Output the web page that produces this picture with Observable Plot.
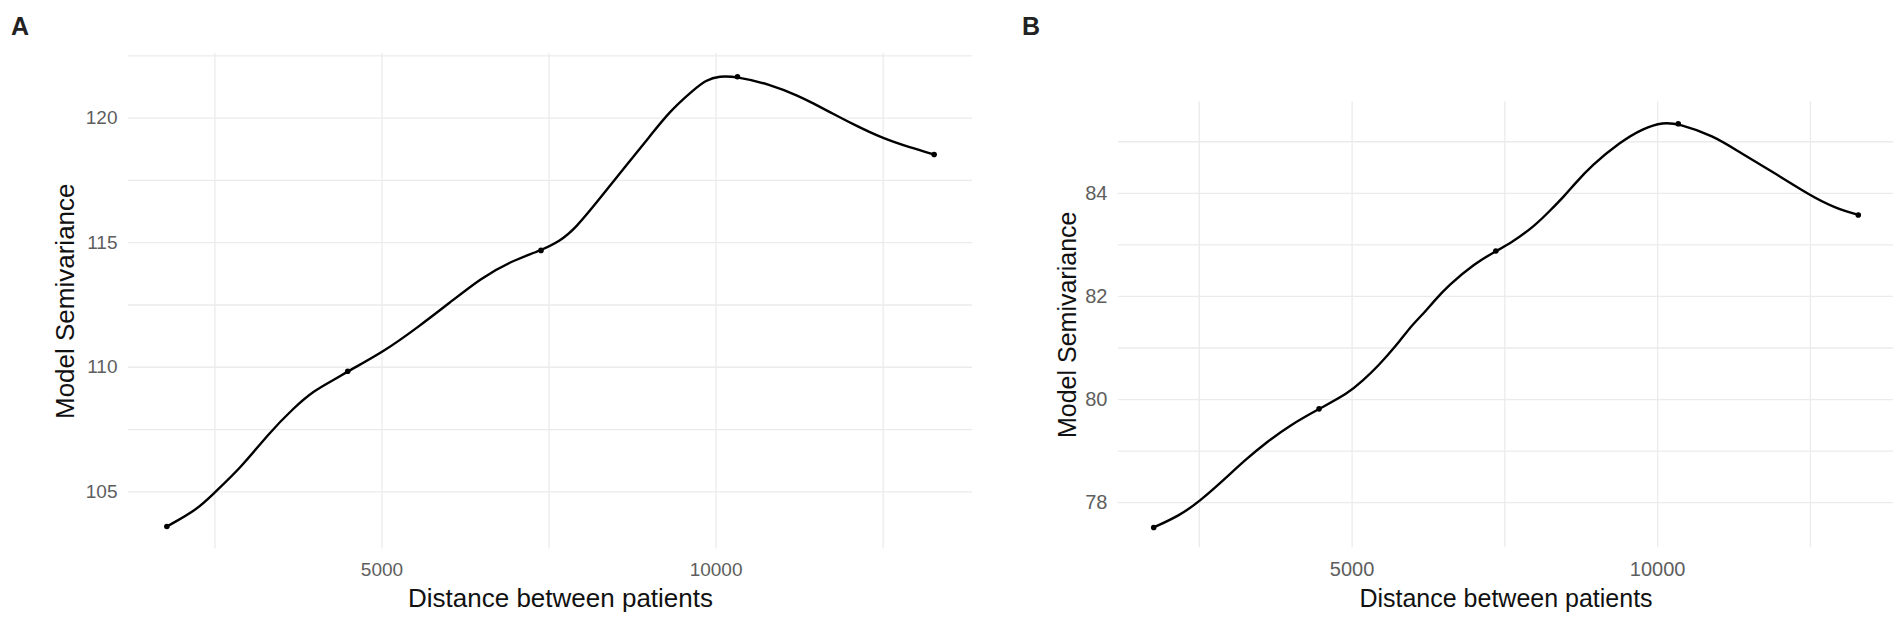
<!DOCTYPE html>
<html>
<head>
<meta charset="utf-8">
<script src="https://cdn.jsdelivr.net/npm/d3@7"></script>
<script src="https://cdn.jsdelivr.net/npm/@observablehq/plot@0.6"></script>
<style>
  html, body { margin: 0; padding: 0; background: #fff; }
  #wrap { position: relative; width: 1901px; height: 640px; overflow: hidden; background: #fff; font-family: "Liberation Sans", Arial, sans-serif; }
  .panel { position: absolute; top: 0; z-index: 1; }
  .tag { position: absolute; z-index: 5; font-size: 25px; font-weight: bold; line-height: 25px; color: #222; }
</style>
</head>
<body>
<div id="wrap">
  <div id="pa" class="panel" style="left:0px;"></div>
  <div id="pb" class="panel" style="left:1000px;"></div>
  <div class="tag" style="left:11px; top:14px;">A</div>
  <div class="tag" style="left:1022px; top:14px;">B</div>
</div>
<script>
// ---------------- Data ----------------
const xTitle = "Distance between patients";
const yTitle = "Model Semivariance";

// Panel A: fitted curve
const curveA_x = [1781, 2241, 2485, 2883, 3308, 3668, 3979, 4292, 4488, 5030, 5539, 6018, 6482, 6916, 7380, 7659, 7889, 8286, 8677, 8990, 9296, 9656, 9850, 10045, 10320, 10790, 11257, 11452, 11657, 12051, 12500, 12904, 13263];
const curveA_y = [103.61, 104.30, 104.95, 105.95, 107.35, 108.34, 109.06, 109.51, 109.84, 110.63, 111.61, 112.60, 113.58, 114.24, 114.69, 115.06, 115.55, 116.86, 118.18, 119.20, 120.25, 121.12, 121.53, 121.69, 121.66, 121.37, 120.87, 120.59, 120.31, 119.75, 119.18, 118.82, 118.54];
// Panel A: points
const pointsA_x = [1781, 4488, 7380, 10320, 13263];
const pointsA_y = [103.61, 109.84, 114.69, 121.66, 118.54];

// Panel B: fitted curve
const curveB_x = [1754, 2179, 2507, 2888, 3271, 3599, 3980, 4460, 4935, 5180, 5426, 5727, 5945, 6162, 6326, 6572, 7009, 7352, 7582, 7991, 8236, 8482, 8618, 8919, 9382, 9764, 10091, 10337, 10910, 11347, 11892, 12493, 12874, 13283];
const curveB_y = [77.52, 77.75, 78.03, 78.43, 78.85, 79.17, 79.50, 79.82, 80.12, 80.37, 80.65, 81.05, 81.40, 81.66, 81.89, 82.21, 82.64, 82.88, 83.02, 83.37, 83.66, 83.96, 84.15, 84.54, 84.99, 85.26, 85.38, 85.35, 85.12, 84.79, 84.41, 83.96, 83.73, 83.58];
// Panel B: points
const pointsB_x = [1754, 4460, 7352, 10337, 13283];
const pointsB_y = [77.52, 79.82, 82.88, 85.35, 83.58];

// Ticks and grid
const gridX = [2500, 5000, 7500, 10000, 12500];
const ticksX = [5000, 10000];
const gridA_y = [105, 107.5, 110, 112.5, 115, 117.5, 120, 122.5];
const ticksA_y = [105, 110, 115, 120];
const gridB_y = [78, 79, 80, 81, 82, 83, 84, 85];
const ticksB_y = [78, 80, 82, 84];

// ---------------- Drawing ----------------
function expand([a, b], f = 0.05) { const d = (b - a) * f; return [a - d, b + d]; }

function panel(o) {
  const curve = o.cx.map((x, i) => ({x, y: o.cy[i]}));
  const pts = o.px.map((x, i) => ({x, y: o.py[i]}));
  const gridStyle = {stroke: "#ebebeb", strokeOpacity: 1, strokeWidth: 1.3};
  return Plot.plot({
    width: o.width,
    height: 640,
    marginLeft: o.ml, marginRight: o.mr, marginTop: o.mt, marginBottom: o.mb,
    style: {fontFamily: '"Liberation Sans", Arial, sans-serif', background: "white", overflow: "visible"},
    x: {domain: expand(d3.extent(o.cx))},
    y: {domain: expand(d3.extent(o.cy))},
    marks: [
      Plot.gridX(gridX, gridStyle),
      Plot.gridY(o.gridY, gridStyle),
      Plot.axisX(ticksX, {tickSize: 0, tickPadding: o.xPad, tickFormat: d => String(d), fontSize: o.tickFont, fill: "#5e5e5e", label: null}),
      Plot.axisY(o.ticksY, {tickSize: 0, tickPadding: 11, tickFormat: d => String(d), fontSize: o.tickFont, fill: "#5e5e5e", label: null}),
      Plot.line(curve, {x: "x", y: "y", curve: "basis", stroke: "black", strokeWidth: 2.4}),
      Plot.dot(pts, {x: "x", y: "y", r: 2.8, fill: "black"}),
      Plot.text([xTitle], {text: d => d, frameAnchor: "bottom", dx: o.xtDx, dy: o.xtDy, lineAnchor: "middle", fontSize: o.titleFont, fill: "#111"}),
      Plot.text([yTitle], {text: d => d, frameAnchor: "left", dx: o.ytDx, rotate: -90, lineAnchor: "middle", textAnchor: "middle", fontSize: o.titleFont, fill: "#111"})
    ]
  });
}

document.getElementById("pa").append(panel({
  cx: curveA_x, cy: curveA_y, px: pointsA_x, py: pointsA_y,
  gridY: gridA_y, ticksY: ticksA_y,
  width: 1000, ml: 128, mr: 28, mt: 53, mb: 91.5,
  xPad: 13, tickFont: 19, titleFont: 26,
  xtDx: 10, xtDy: 50, ytDx: -63
}));

document.getElementById("pb").append(panel({
  cx: curveB_x, cy: curveB_y, px: pointsB_x, py: pointsB_y,
  gridY: gridB_y, ticksY: ticksB_y,
  width: 901, ml: 118, mr: 8, mt: 101.4, mb: 92.8,
  xPad: 14.5, tickFont: 20, titleFont: 25,
  xtDx: 0, xtDy: 51, ytDx: -51
}));
</script>
</body>
</html>
